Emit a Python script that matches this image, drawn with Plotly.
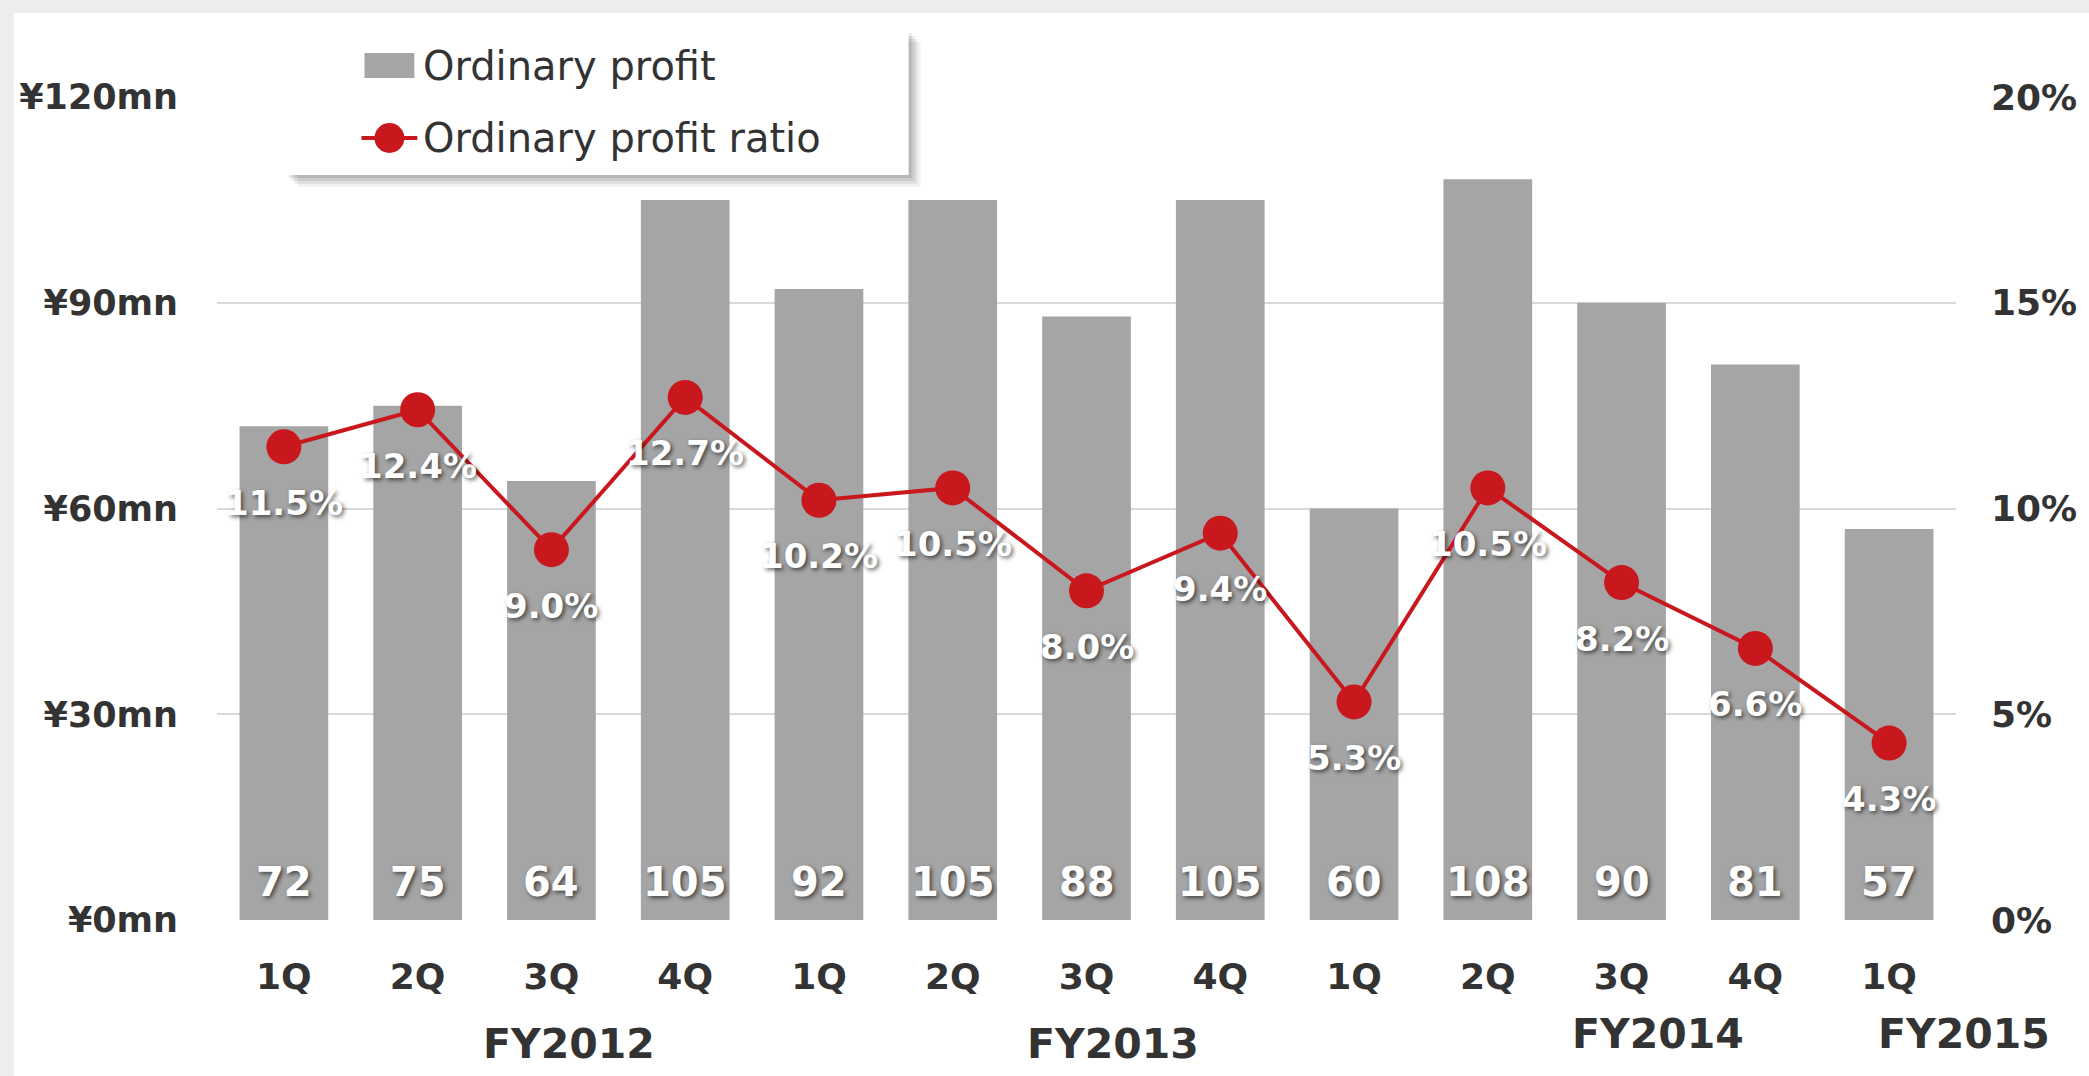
import plotly.graph_objects as go

# data
quarters = ["1Q", "2Q", "3Q", "4Q", "1Q", "2Q", "3Q", "4Q", "1Q", "2Q", "3Q", "4Q", "1Q"]
ordinary_profit = [72, 75, 64, 105, 92, 105, 88, 105, 60, 108, 90, 81, 57]   # ¥mn
profit_ratio = [11.5, 12.4, 9.0, 12.7, 10.2, 10.5, 8.0, 9.4, 5.3, 10.5, 8.2, 6.6, 4.3]  # %
fiscal_years = ["FY2012", "FY2013", "FY2014", "FY2015"]

# where the fiscal year captions sit (pixel centre x, y)
fy_px = [570, 1116, 1663, 1970]
fy_py = [1044, 1044, 1034, 1034]

W, H = 2089, 1076
L, R, T, B = 217, 1962, 97, 920

BAR = "#A5A5A5"
RED = "#C9171E"
DARK = "#333333"
GRID = "#D9D9D9"
FONT = "DejaVu Sans"
SHADOW = "2px 2px 4px rgba(0,0,0,0.6)"


def fx(px):
    return (px - L) / (R - L)


def fy(py):
    return (B - py) / (B - T)


x = list(range(len(quarters)))

fig = go.Figure()
fig.add_trace(go.Bar(x=x, y=ordinary_profit, name="Ordinary profit",
                     marker=dict(color=BAR, line=dict(width=0)),
                     showlegend=False, hoverinfo="y"))
fig.add_trace(go.Scatter(x=x, y=profit_ratio, name="Ordinary profit ratio", yaxis="y2",
                         mode="lines+markers",
                         line=dict(color=RED, width=4),
                         marker=dict(color=RED, size=35),
                         showlegend=False))

ann = []
# bar values near the base of each bar
for i, v in enumerate(ordinary_profit):
    ann.append(dict(x=i, y=0, xref="x", yref="y", text=str(v), showarrow=False,
                    yanchor="middle", yshift=38,
                    font=dict(family=FONT, size=40, color="white", weight="bold", shadow=SHADOW)))
# ratio labels under each marker
for i, r in enumerate(profit_ratio):
    ann.append(dict(x=i, y=r, xref="x", yref="y2", text=f"{r:.1f}%", showarrow=False,
                    yanchor="middle", yshift=-56,
                    font=dict(family=FONT, size=34, color="white", weight="bold", shadow=SHADOW)))
# fiscal year captions
for lab, xx, yy in zip(fiscal_years, fy_px, fy_py):
    ann.append(dict(x=fx(xx), y=fy(yy), xref="paper", yref="paper", text=lab, showarrow=False,
                    xanchor="center", yanchor="middle",
                    font=dict(family=FONT, size=41, color=DARK, weight="bold")))

# hand drawn legend box
legend_rows = [("Ordinary profit", 66), ("Ordinary profit ratio", 138)]
for lab, yy in legend_rows:
    ann.append(dict(x=fx(422), y=fy(yy), xref="paper", yref="paper", text=lab, showarrow=False,
                    xanchor="left", yanchor="middle",
                    font=dict(family=FONT, size=40, color=DARK)))

shapes = [
    # white card on a light grey page
    dict(type="rect", xref="paper", yref="paper", layer="below",
         x0=fx(13), x1=fx(W + 20), y0=fy(H + 20), y1=fy(13),
         fillcolor="white", line=dict(width=0)),
]
for k, op in [(12, 0.05), (9, 0.07), (6, 0.09), (3, 0.1)]:
    shapes.append(dict(type="rect", xref="paper", yref="paper", layer="above",
                       x0=fx(286 + k), x1=fx(911 + k), y0=fy(175 + k), y1=fy(30 + k),
                       fillcolor=f"rgba(0,0,0,{op})", line=dict(width=0)))
shapes += [
    dict(type="rect", xref="paper", yref="paper", layer="above",
         x0=fx(286), x1=fx(911), y0=fy(175), y1=fy(30),
         fillcolor="white", line=dict(width=0)),
    dict(type="rect", xref="paper", yref="paper", layer="above",
         x0=fx(365), x1=fx(415), y0=fy(78), y1=fy(53),
         fillcolor=BAR, line=dict(width=0)),
    dict(type="line", xref="paper", yref="paper", layer="above",
         x0=fx(362), x1=fx(418), y0=fy(138), y1=fy(138),
         line=dict(color=RED, width=4)),
    dict(type="circle", xref="paper", yref="paper", layer="above",
         x0=fx(375), x1=fx(405), y0=fy(153), y1=fy(123),
         fillcolor=RED, line=dict(width=0)),
]

fig.update_layout(
    width=W, height=H,
    margin=dict(l=L, r=W - R, t=T, b=H - B),
    paper_bgcolor="#EDEDED",
    plot_bgcolor="rgba(0,0,0,0)",
    bargap=0.337,
    font=dict(family=FONT, color=DARK),
    xaxis=dict(
        tickmode="array", tickvals=x, ticktext=quarters,
        range=[-0.5, len(quarters) - 0.5],
        showgrid=False, zeroline=False, showline=False, ticks="",
        ticklabelstandoff=32,
        tickfont=dict(family=FONT, size=36, color=DARK, weight="bold"),
    ),
    yaxis=dict(
        range=[0, 120], dtick=30, tickprefix="¥", ticksuffix="mn",
        showgrid=True, gridcolor=GRID, gridwidth=2,
        zeroline=False, showline=False, ticks="",
        ticklabelstandoff=38,
        tickfont=dict(family=FONT, size=35, color=DARK, weight="bold"),
    ),
    yaxis2=dict(
        range=[0, 20], dtick=5, ticksuffix="%",
        overlaying="y", side="right",
        showgrid=False, zeroline=False, showline=False, ticks="",
        ticklabelstandoff=34,
        tickfont=dict(family=FONT, size=36, color=DARK, weight="bold"),
    ),
    annotations=ann,
    shapes=shapes,
)

# drop the browser's default body margin so the figure sits at the page corner
fig.write_html("out.html", config={"displayModeBar": False},
               post_script="document.body.style.margin='0';")
